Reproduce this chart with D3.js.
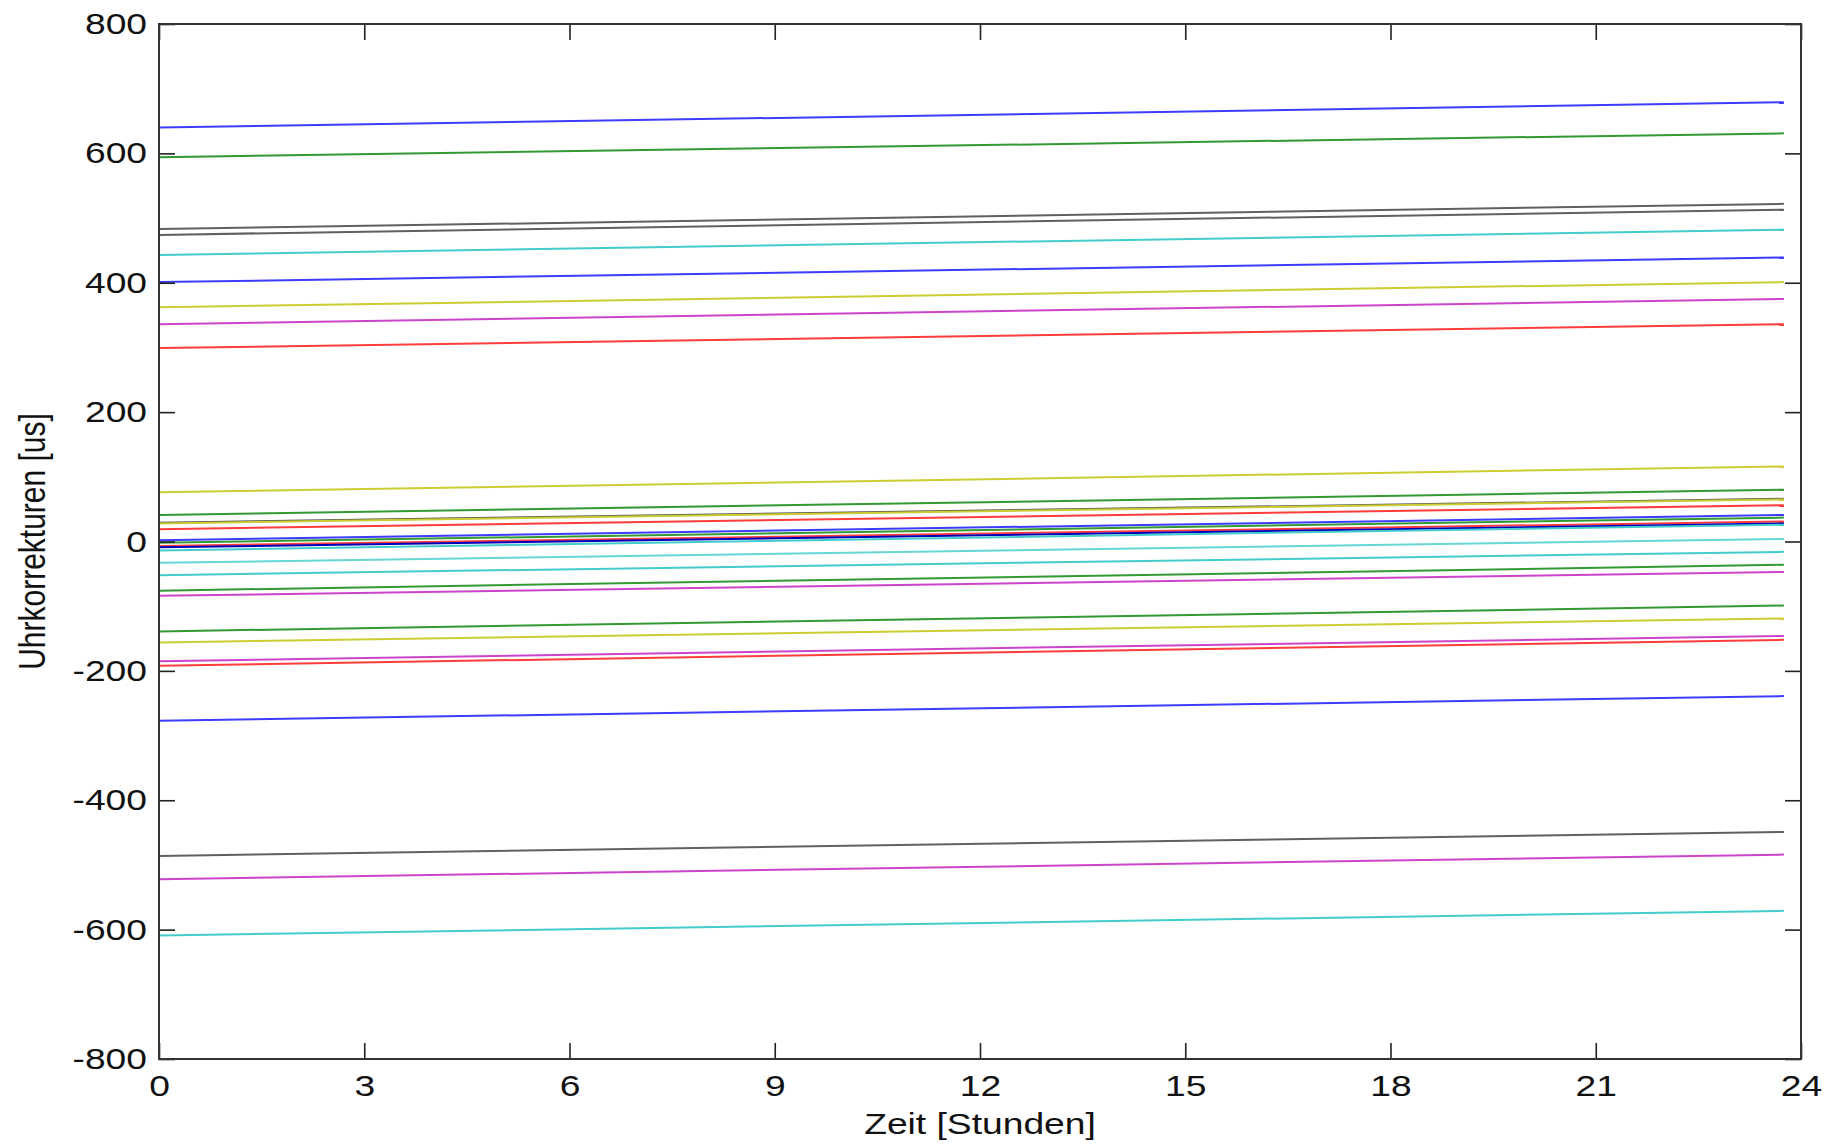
<!DOCTYPE html>
<html>
<head>
<meta charset="utf-8">
<script src="https://cdn.jsdelivr.net/npm/d3@7"></script>
<style>
  html, body { margin: 0; padding: 0; background: #ffffff; }
  svg { display: block; }
  text { font-family: "Liberation Sans", Arial, Helvetica, sans-serif; fill: #111; }
</style>
</head>
<body>
<svg id="chart" width="1832" height="1144"></svg>
<script>
// ---- data ----
const hours = [0, 23.75];                       // time span of each line (hours)
const xTicks = [0, 3, 6, 9, 12, 15, 18, 21, 24];
const yTicks = [-800, -600, -400, -200, 0, 200, 400, 600, 800];
// clock corrections [us] at start and end of the day, one entry per satellite
const startValues = [640, 594, 483, 474, 443, 401, 362, 336, 299,
                     76, 41, 29, 28, 19, 2, -2, -7, -9, -14, -33, -52,
                     -76, -84, -139, -156, -185, -192, -277, -486, -522, -609];
const endValues   = [679, 631, 522, 513, 482, 439, 401, 375, 336,
                     116, 80, 66, 65, 56, 41, 37, 31, 28, 26, 4, -16,
                     -36, -47, -99, -119, -146, -152, -239, -449, -484, -571];
const lineColors  = ["#3c3cff", "#339933", "#606060", "#606060", "#44cccc", "#3c3cff", "#cccc33", "#cc44cc", "#ff3c3c",
                     "#cccc33", "#339933", "#555555", "#cccc33", "#ff3c3c", "#3c3cff", "#339933", "#ff3c3c", "#0000bb", "#44cccc", "#66d6d6", "#44cccc",
                     "#339933", "#cc44cc", "#339933", "#cccc33", "#cc44cc", "#ff3c3c", "#3c3cff", "#606060", "#cc44cc", "#44cccc"];
const xLabel = "Zeit [Stunden]";
const yLabel = "Uhrkorrekturen [us]";

// ---- layout ----
const L = 159, R = 1801, T = 24, B = 1059;
const STRETCH = 1.24;   // reference text is horizontally stretched
const svg = d3.select("#chart");
const x = d3.scaleLinear().domain([0, 24]).range([L, R]);
const y = d3.scaleLinear().domain([-800, 800]).range([B, T]);
const plainFormat = d => String(d);   // hyphen-minus like the reference

// ---- lines ----
const line = d3.line().x(d => x(d[0])).y(d => y(d[1]));
const gLines = svg.append("g");
startValues.forEach((v0, i) => {
  const pts = [[hours[0], v0], [hours[1], endValues[i]]];
  gLines.append("path")
    .attr("d", line(pts))
    .attr("fill", "none")
    .attr("stroke", lineColors[i])
    .attr("stroke-width", 2);
});

// ---- axes ----
const tickLen = 16;
function styleAxis(g) {
  g.select(".domain").remove();
  g.selectAll(".tick line").attr("stroke", "#222").attr("stroke-width", 1.6);
  g.selectAll("text").attr("font-size", 30).attr("fill", "#111")
    .style("font-family", '"Liberation Sans", Arial, sans-serif');
}
const gx = svg.append("g").attr("transform", `translate(0,${B})`)
  .call(d3.axisBottom(x).tickValues(xTicks).tickFormat(plainFormat)
        .tickSizeInner(-tickLen).tickSizeOuter(0).tickPadding(16));
styleAxis(gx);
const gxTop = svg.append("g").attr("transform", `translate(0,${T})`)
  .call(d3.axisTop(x).tickValues(xTicks).tickFormat("")
        .tickSizeInner(-tickLen).tickSizeOuter(0));
styleAxis(gxTop);
const gy = svg.append("g").attr("transform", `translate(${L},0)`)
  .call(d3.axisLeft(y).tickValues(yTicks).tickFormat(plainFormat)
        .tickSizeInner(-tickLen).tickSizeOuter(0).tickPadding(12));
styleAxis(gy);
const gyR = svg.append("g").attr("transform", `translate(${R},0)`)
  .call(d3.axisRight(y).tickValues(yTicks).tickFormat("")
        .tickSizeInner(-tickLen).tickSizeOuter(0));
styleAxis(gyR);

// box
svg.append("rect")
  .attr("x", L).attr("y", T).attr("width", R - L).attr("height", B - T)
  .attr("fill", "none").attr("stroke", "#333").attr("stroke-width", 2);

// axis labels
svg.append("text")
  .attr("x", (L + R) / 2).attr("y", 1134)
  .attr("text-anchor", "middle").attr("font-size", 30)
  .text(xLabel);
svg.append("text")
  .attr("transform", `translate(45,${(T + B) / 2}) scale(${STRETCH},1) rotate(-90)`)
  .attr("text-anchor", "middle").attr("font-size", 30)
  .text(yLabel);

// stretch horizontal text to match reference
svg.selectAll("text").each(function () {
  const t = d3.select(this);
  if (t.attr("transform")) return;
  const w = this.getComputedTextLength();
  if (w > 0) t.attr("textLength", w * STRETCH).attr("lengthAdjust", "spacingAndGlyphs");
});
</script>
</body>
</html>
